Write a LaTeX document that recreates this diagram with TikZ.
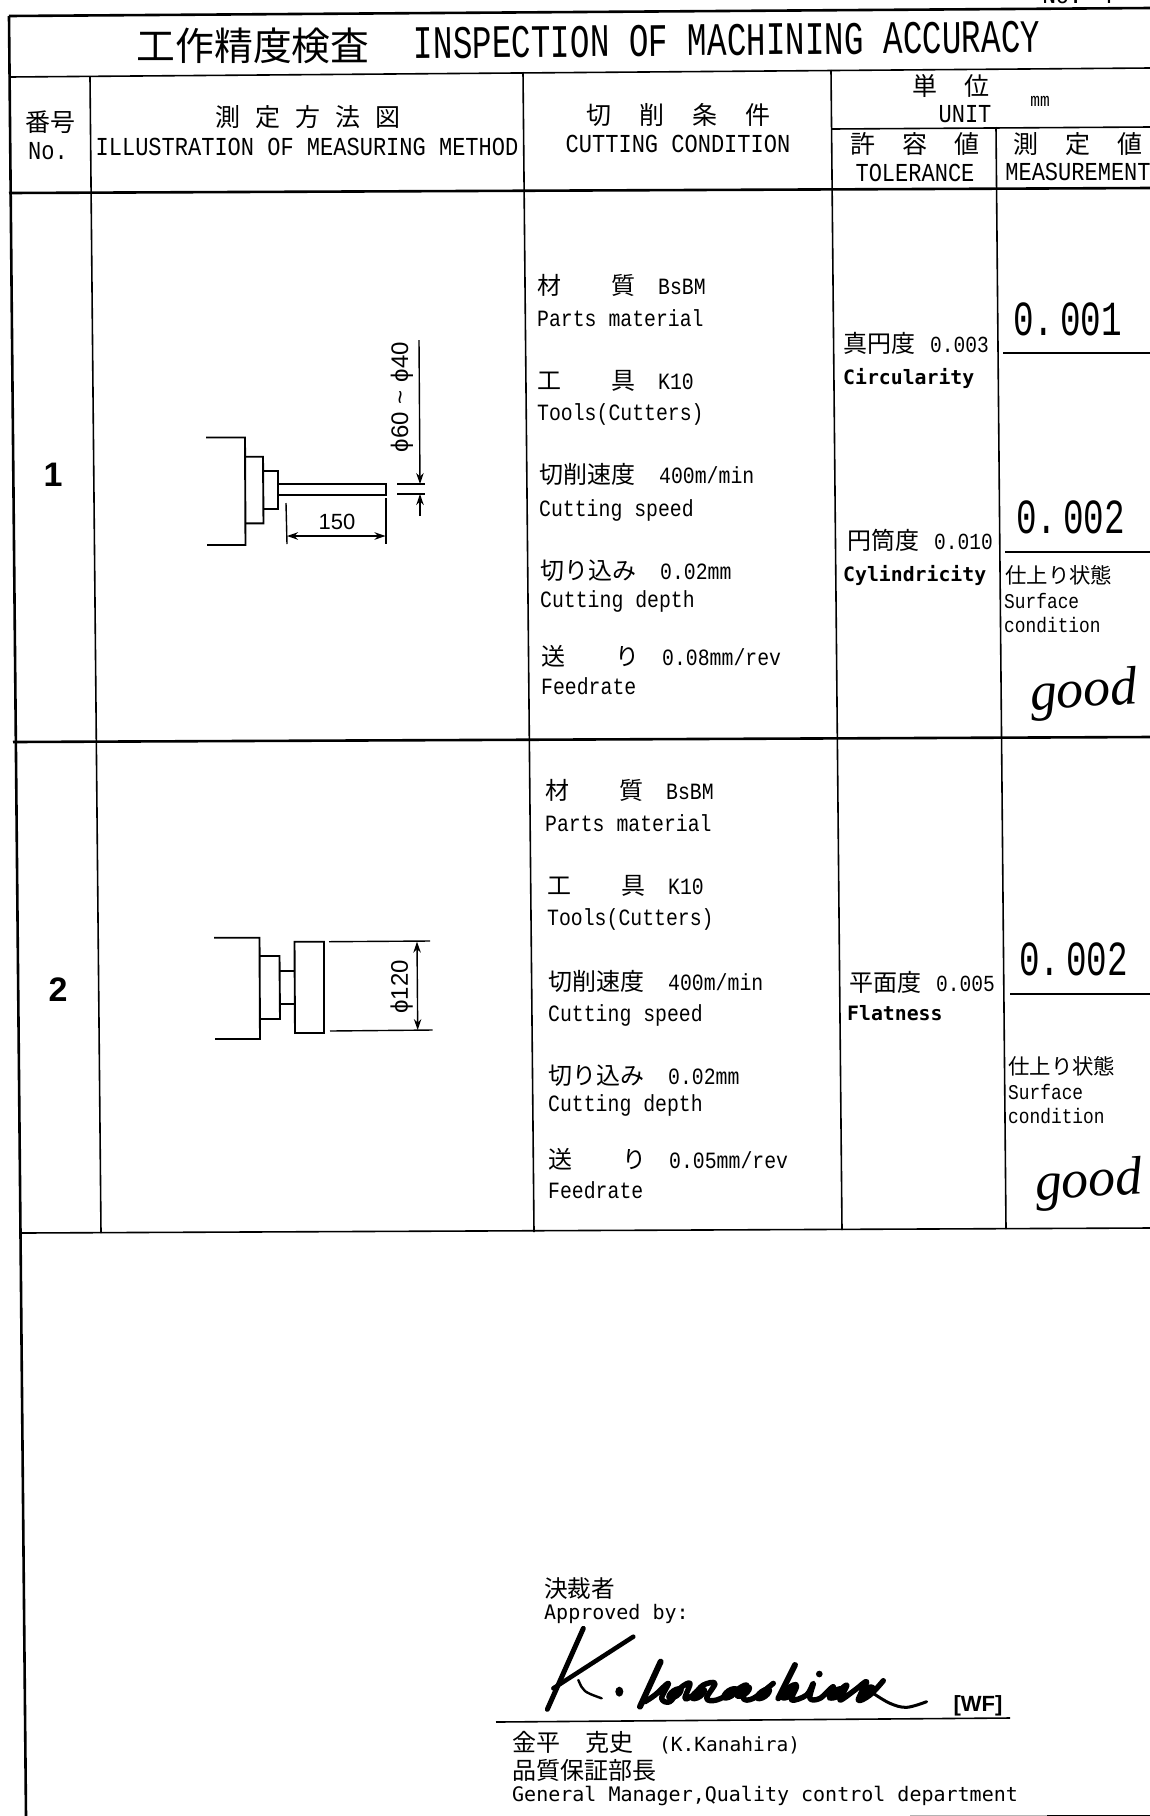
\documentclass[tikz,border=0pt]{standalone}
\usepackage{fontspec}
\usetikzlibrary{
    arrows.meta,
    positioning,
}
\newfontfamily\cjk{Noto Sans CJK JP}
\newfontfamily\monofam[FakeStretch=0.85]{Liberation Mono}
\newfontfamily\narrowfam[FakeStretch=0.7]{Liberation Mono}
\newfontfamily\gothfam{DejaVu Sans Mono}
\newfontfamily\dimfam{Liberation Sans}
\newfontfamily\goodfam{Liberation Serif}
\newcommand{\fs}[1]{\fontsize{#1}{#1}\selectfont}
\newcommand{\jp}[2][24]{{\cjk\fs{#1}#2}}
\newcommand{\kn}[1]{\hspace{#1pt}}

\begin{document}
\begin{tikzpicture}[
        x=1pt, y=-1pt,
        >={Stealth[length=11pt,width=7.5pt]},
        rulehead/.style={line width=2.6pt, black},
        rulecell/.style={line width=1.6pt, black},
        part/.style={line width=1.9pt, black},
        dimline/.style={line width=1.4pt, black},
        head/.style={inner sep=0pt, font=\monofam\fs{25.9}},
        cond/.style={anchor=north west, inner sep=0pt, text height=16pt, text depth=4pt, font=\monofam\fs{23.3}},
        tol/.style={anchor=west, inner sep=0pt, font=\monofam\fs{23}},
        tolname/.style={anchor=west, inner sep=0pt, font=\gothfam\bfseries\fs{19.8}},
        meas/.style={anchor=west, inner sep=0pt, font=\narrowfam\fs{49}},
        surf/.style={anchor=west, inner sep=0pt, font=\monofam\fs{21}},
        goodmark/.style={inner sep=0pt, rotate=4, font=\goodfam\itshape\fs{54}},
        sign/.style={anchor=west, inner sep=0pt, font=\gothfam\fs{20}},
        dimtext/.style={inner sep=0pt, font=\dimfam\fs{22}},
        diatext/.style={inner sep=0pt, rotate=90, font=\dimfam\fs{24}},
        pen/.style={black, line cap=round, line join=round},
    ]
    \useasboundingbox (0,0) rectangle (1150,1816);

    % ── Page mark ──
    \node[inner sep=0pt, font=\gothfam\fs{22}] (pageno) at (1078,-4) {No. 4};

    % ── Frame and rows ──
    \draw[rulehead] (9,16) -- (1150,8);
    \draw[rulehead] (9,16) -- (26,1816);
    \draw[rulecell] (9,77) -- (1150,68);
    \draw[rulehead] (9,193) -- (1150,188);
    \draw[rulehead] (13,742) -- (1150,737);
    \draw[rulecell] (21,1233) -- (1150,1228);
    \draw[rulecell] (831,129) -- (1150,127);

    % ── Columns ──
    \draw[rulecell] (90,77) -- (101,1233);
    \draw[rulecell] (523,72) -- (534,1232);
    \draw[rulecell] (831,70) -- (842,1230);
    \draw[rulecell] (996,127) -- (1006,1229);

    % ── Measurement rules ──
    \draw[rulecell] (1003,353) -- (1150,353);
    \draw[rulecell] (1005,552) -- (1150,552);
    \draw[rulecell] (1010,994) -- (1150,994);

    % ── Title ──
    \node[inner sep=0pt] (titlejp) at (253,46) {\jp[38.8]{工作精度検査}};
    \node[inner sep=0pt, rotate=0.6, font=\narrowfam\fs{46.6}] (titleen) at (727,40) {INSPECTION OF MACHINING ACCURACY};

    % ── Column heads ──
    \node[inner sep=0pt] (nojp) at (50,122) {\jp[25]{番号}};
    \node[head] (noen) at (48,151) {No.};
    \node[inner sep=0pt] (methodjp) at (308,117) {\jp[25]{測\kn{15}定\kn{15}方\kn{15}法\kn{15}図}};
    \node[head] (methoden) at (307,147) {ILLUSTRATION OF MEASURING METHOD};
    \node[inner sep=0pt] (condjp) at (678,115) {\jp[25]{切\kn{28}削\kn{28}条\kn{28}件}};
    \node[head] (conden) at (678,144) {CUTTING CONDITION};
    \node[inner sep=0pt] (unitjp) at (951,86) {\jp[25]{単\kn{27}位}};
    \node[head] (uniten) at (965,114) {UNIT};
    \node[inner sep=0pt, font=\monofam\fs{19}] (unitmm) at (1040,101) {mm};
    \node[inner sep=0pt] (toljp) at (915,144) {\jp[25]{許\kn{27}容\kn{27}値}};
    \node[head] (tolen) at (915,173) {TOLERANCE};
    \node[inner sep=0pt] (measjp) at (1078,144) {\jp[25]{測\kn{27}定\kn{27}値}};
    \node[head] (measen) at (1078,172) {MEASUREMENT};

    % ── Row numbers ──
    \node[inner sep=0pt, font=\dimfam\bfseries\fs{34}] (rowa) at (53,475) {1};
    \node[inner sep=0pt, font=\dimfam\bfseries\fs{34}] (rowb) at (58,990) {2};

    % ── Row 1: turning sketch ──
    \draw[part] (206,437.5) -- (245,437.5) -- (245.5,545) -- (207,545);
    \draw[part] (245,456.7) -- (263,456.7) -- (263.5,523.3) -- (245.5,523.3);
    \draw[part] (263,471) -- (278,471) -- (278,509) -- (263.5,509);
    \draw[part] (278,484) -- (386,484) -- (386,495) -- (278,495);
    \draw[dimline] (286,503) -- (287,544);
    \draw[dimline] (386,498) -- (386,544);
    \draw[dimline, <->] (287,536) -- (385.5,536);
    \draw[dimline, ->] (419,340) -- (420,484);
    \draw[dimline] (397,484) -- (425,484);
    \draw[dimline] (397,494) -- (425,494);
    \draw[dimline, ->] (420,516) -- (420,494);
    \node[dimtext] (lenlabel) at (337,522) {150};
    \node[diatext] (dialabel) at (402,397) {ϕ60\kn{8}\~{}\kn{8}ϕ40};

    % ── Row 1: cutting condition ──
    \node[cond] (mata) at (537,278) {\jp{材\kn{50}質}\kn{23}BsBM};
    \node[cond, below=12pt of mata.south west, cond] (matena) {Parts material};
    \node[cond, below=42pt of matena.south west, cond] (toola) {\jp{工\kn{50}具}\kn{23}K10};
    \node[cond, below=11pt of toola.south west, cond] (toolena) {Tools(Cutters)};
    \node[cond, below=43pt of toolena.south west, cond, xshift=2pt] (speeda) {\jp{切削速度}\kn{24}400m/min};
    \node[cond, below=12pt of speeda.south west, cond] (speedena) {Cutting speed};
    \node[cond, below=43pt of speedena.south west, cond, xshift=1pt] (deptha) {\jp{切り込み}\kn{24}0.02mm};
    \node[cond, below=7pt of deptha.south west, cond] (depthena) {Cutting depth};
    \node[cond, below=38pt of depthena.south west, cond, xshift=1pt] (feeda) {\jp{送\kn{50}り}\kn{23}0.08mm/rev};
    \node[cond, below=9pt of feeda.south west, cond] (feedena) {Feedrate};

    % ── Row 1: tolerance and result ──
    \node[tol] (circ) at (843,343) {\jp{真円度}\kn{15}0.003};
    \node[tolname] (circen) at (843,378) {Circularity};
    \node[tol] (cyl) at (847,540) {\jp{円筒度}\kn{15}0.010};
    \node[tolname] (cylen) at (843,575) {Cylindricity};
    \node[meas] (mesa) at (1013,319) {0.\kn{6}001};
    \node[meas] (mesb) at (1016,517) {0.\kn{6}002};
    \node[surf] (surfa) at (1005,575) {\jp[21.4]{仕上り状態}};
    \node[surf] (surfena) at (1004,601) {Surface};
    \node[surf] (surfenb) at (1004,625) {condition};
    \node[goodmark] (gooda) at (1084,694) {good};

    % ── Row 2: facing sketch ──
    \draw[part] (214,937.7) -- (259.5,937.7) -- (260,1039) -- (215,1039);
    \draw[part] (260,956) -- (279.5,956) -- (280,1019) -- (260,1019);
    \draw[part] (280,970.7) -- (295,970.7);
    \draw[part] (280,1004) -- (295,1004);
    \draw[part] (294.5,941.7) -- (324,941.7) -- (324,1033) -- (295,1033) -- cycle;
    \draw[dimline] (329,941.7) -- (430,941);
    \draw[dimline] (330,1031) -- (432.7,1030);
    \draw[dimline, <->] (417,941.7) -- (417.7,1030);
    \node[diatext] (dialabelb) at (401.7,987) {ϕ120};

    % ── Row 2: cutting condition ──
    \node[cond] (matb) at (545,783.5) {\jp{材\kn{50}質}\kn{23}BsBM};
    \node[cond, below=11pt of matb.south west, cond] (matenb) {Parts material};
    \node[cond, below=43pt of matenb.south west, cond, xshift=2pt] (toolb) {\jp{工\kn{50}具}\kn{23}K10};
    \node[cond, below=11pt of toolb.south west, cond] (toolenb) {Tools(Cutters)};
    \node[cond, below=44pt of toolenb.south west, cond, xshift=1pt] (speedb) {\jp{切削速度}\kn{24}400m/min};
    \node[cond, below=11pt of speedb.south west, cond] (speedenb) {Cutting speed};
    \node[cond, below=42pt of speedenb.south west, cond] (depthb) {\jp{切り込み}\kn{24}0.02mm};
    \node[cond, below=7pt of depthb.south west, cond] (depthenb) {Cutting depth};
    \node[cond, below=37pt of depthenb.south west, cond] (feedb) {\jp{送\kn{50}り}\kn{23}0.05mm/rev};
    \node[cond, below=9pt of feedb.south west, cond] (feedenb) {Feedrate};

    % ── Row 2: tolerance and result ──
    \node[tol] (flat) at (849,982) {\jp{平面度}\kn{15}0.005};
    \node[tolname] (flaten) at (847,1013) {Flatness};
    \node[meas] (mesc) at (1019,959) {0.\kn{6}002};
    \node[surf] (surfb) at (1008,1066) {\jp[21.4]{仕上り状態}};
    \node[surf] (surfenc) at (1008,1092) {Surface};
    \node[surf] (surfend) at (1008,1116) {condition};
    \node[goodmark] (goodb) at (1089,1184) {good};

    % ── Approval ──
    \node[sign] (appjp) at (544,1589) {\jp[23.6]{決裁者}};
    \node[sign] (appen) at (544,1614) {Approved by:};
    \begin{scope}[shift={(530,1620)}, x=0.3333pt, y=-0.3333pt]
        \draw[pen, line width=5pt] (160,25) -- (52,268);
        \draw[pen, line width=4.5pt] (310,50) -- (70,205);
        \draw[pen, line width=2.4pt] (145,180) .. controls (160,215) .. (215,235);
        \fill[pen] (268,215) ellipse (12 and 15);
        \draw[pen, line width=6pt] (392,125) -- (330,260);
        \draw[pen, line width=5.4pt] plot[smooth, tension=0.6] coordinates {(345,245) (375,225) (415,190) (395,235) (420,245) (450,205) (480,190) (465,235) (490,225) (520,195) (555,190) (530,235) (560,240) (610,215) (650,195) (640,235) (670,235) (730,190)};
        \draw[pen, line width=6pt] (795,135) -- (745,235);
        \draw[pen, line width=5.4pt] plot[smooth, tension=0.6] coordinates {(760,215) (790,195) (800,200) (785,240) (830,225) (850,190) (840,235) (870,235) (910,200) (900,235) (950,195) (930,240) (975,210) (1010,185) (985,240) (1020,225) (1060,182)};
        \draw[pen, line width=3pt] plot[smooth, tension=0.6] coordinates {(1030,220) (1080,250) (1130,262) (1190,245)};
        \fill[pen] (868,162) circle (10);
        \foreach \bx/\by in {435/220, 505/222, 600/220, 640/215, 700/222, 775/220, 920/220, 1010/215}
            \fill[pen, rotate around={35:(\bx,\by)}] (\bx,\by) ellipse (30 and 17);
    \end{scope}
    \node[inner sep=1pt, font=\dimfam\bfseries\fs{22}] (wfmark) at (978,1706) {[WF]};
    \draw[rulecell] (496,1722) -- (1010,1718);
    \node[sign] (namea) at (512,1743) {\jp{金平\kn{25}克史}\kn{26}{\fs{19.5}(K.Kanahira)}};
    \node[sign] (nameb) at (512,1770) {\jp{品質保証部長}};
    \node[sign] (namec) at (512,1796) {General Manager,Quality control department};

    % ── Bottom edge ──
    \draw[rulecell, gray!60] (910,1815.5) -- (1047,1815.5);
    \draw[rulecell] (1047,1815.5) -- (1150,1815.5);

\end{tikzpicture}
\end{document}
